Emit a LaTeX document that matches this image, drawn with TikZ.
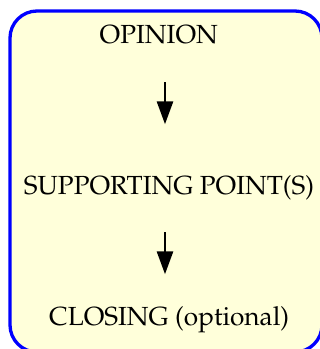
\documentclass[tikz,border=0pt]{standalone}
\usepackage[T1]{fontenc}
\usepackage{mathpazo}
\usetikzlibrary{arrows.meta}
\definecolor{boxfill}{RGB}{255,255,218}
\definecolor{boxline}{RGB}{0,0,255}
\tikzset{
  lbl/.style={anchor=base, inner sep=0pt, font=\fontsize{26.2}{30}\selectfont, text=black},
  arr/.style={line width=2.8pt, -{Triangle[length=23pt,width=16pt]}},
  frame/.style={draw=boxline, line width=3.3pt, fill=boxfill, rounded corners=27pt}
}
\begin{document}
\begin{tikzpicture}[x=1pt,y=1pt]
\useasboundingbox (0,0) rectangle (320,-349);
\clip (0,0) rectangle (320,-349);
\draw[frame] (10,-11) rectangle (322,-352);
\node[lbl] (op) at (158.8,-43.3) {OPINION};
\node[lbl] (sp) at (169,-194.5) {SUPPORTING POINT(S)};
\node[lbl] (cl) at (169.2,-325) {CLOSING (optional)};
\coordinate (a1s) at (165,-82.3);
\coordinate (a1e) at (165,-124.3);
\coordinate (a2s) at (165,-232.3);
\coordinate (a2e) at (165,-274.3);
\draw[arr] (a1s) -- (a1e);
\draw[arr] (a2s) -- (a2e);
\end{tikzpicture}
\end{document}
